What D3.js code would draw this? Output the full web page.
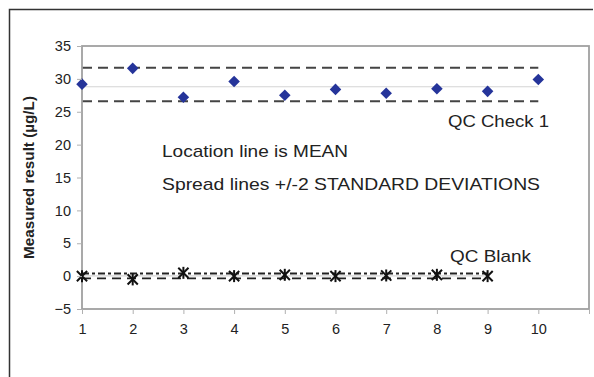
<!DOCTYPE html>
<html lang="en">
<head>
    <script src='https://d3js.org/d3.v7.min.js'></script>
    <style>
        body { margin: 0; background: #fff; }
        text { font-family: "Liberation Sans", Arial, sans-serif; fill: #222; }
    </style>
</head>
<body>
<script>
    // sample numbers
    var runs = [1, 2, 3, 4, 5, 6, 7, 8, 9, 10];
    var check1 = [29.2, 31.6, 27.2, 29.6, 27.5, 28.4, 27.8, 28.5, 28.1, 29.9];
    var blankRuns = [1, 2, 3, 4, 5, 6, 7, 8, 9];
    var blank = [0, -0.5, 0.5, 0, 0.2, 0, 0.1, 0.2, 0];
    var yTicks = [-5, 0, 5, 10, 15, 20, 25, 30, 35];

    // control limits (mean and +/-2 sd as drawn)
    var check1Mean = 28.8, check1Upper = 31.7, check1Lower = 26.6;
    var blankMean = 0.05, blankUpper = 0.4, blankLower = -0.35;

    var width = 594, height = 377;
    var margin = {left: 82, top: 46, right: 5, bottom: 68};

    var svg = d3.select("body").append("svg")
        .attr("width", width)
        .attr("height", height);

    // figure frame (top and left only)
    svg.append("path")
        .attr("d", "M9.5,377V9.5H593")
        .attr("fill", "none")
        .attr("stroke", "#333")
        .attr("stroke-width", 1.5);

    var x = d3.scaleLinear().domain([1, 11]).range([margin.left, width - margin.right]);
    var y = d3.scaleLinear().domain([-5, 35]).range([height - margin.bottom, margin.top]);

    var g = svg.append("g");

    // mean lines
    g.append("line")
        .attr("x1", x(1)).attr("x2", x(10))
        .attr("y1", y(check1Mean)).attr("y2", y(check1Mean))
        .attr("stroke", "#d4d4d4").attr("stroke-width", 1.2);

    g.append("line")
        .attr("x1", x(1)).attr("x2", x(9))
        .attr("y1", y(blankMean)).attr("y2", y(blankMean))
        .attr("stroke", "#d4d4d4").attr("stroke-width", 1.2);

    // spread lines
    [check1Upper, check1Lower].forEach(function (v) {
        g.append("line")
            .attr("x1", x(1)).attr("x2", x(10))
            .attr("y1", y(v)).attr("y2", y(v))
            .attr("stroke", "#444").attr("stroke-width", 2)
            .attr("stroke-dasharray", "10,6");
    });

    [blankUpper, blankLower].forEach(function (v, i) {
        g.append("line")
            .attr("x1", x(1)).attr("x2", x(9))
            .attr("y1", y(v)).attr("y2", y(v))
            .attr("stroke", "#222").attr("stroke-width", 1.8)
            .attr("stroke-dasharray", i ? "9,6" : "7,3,3,3");
    });

    // plot border
    g.append("rect")
        .attr("x", x(1)).attr("y", y(35))
        .attr("width", x(11) - x(1)).attr("height", y(-5) - y(35))
        .attr("fill", "none").attr("stroke", "#a0a0a0").attr("stroke-width", 1.8);

    // axes
    var yAxis = d3.axisLeft(y).tickValues(yTicks).tickSize(5).tickPadding(6);
    var yg = svg.append("g").attr("transform", "translate(" + x(1) + ",0)").call(yAxis);
    var xAxis = d3.axisBottom(x).tickValues(d3.range(1, 12)).tickSize(5).tickPadding(10)
        .tickFormat(function (d) { return d <= 10 ? d : ""; });
    var xg = svg.append("g").attr("transform", "translate(0," + y(-5) + ")").call(xAxis);
    [yg, xg].forEach(function (a) {
        a.select(".domain").remove();
        a.selectAll(".tick line").attr("stroke", "#b0b0b0");
        a.selectAll(".tick text").style("font-size", "14.5px").attr("fill", "#222")
            .style("font-family", "Liberation Sans, Arial, sans-serif");
    });

    // QC check points (diamonds)
    var diamond = d3.symbol().type(d3.symbolDiamond2).size(85);
    g.selectAll(".chk").data(check1).enter().append("path")
        .attr("d", diamond)
        .attr("transform", function (d, i) { return "translate(" + x(runs[i]) + "," + y(d) + ")"; })
        .attr("fill", "#25349a");

    // QC blank points (asterisks)
    var star = d3.symbol().type(d3.symbolTimes).size(70);
    g.selectAll(".blk").data(blank).enter().append("g")
        .attr("transform", function (d, i) { return "translate(" + x(blankRuns[i]) + "," + y(d) + ")"; })
        .each(function () {
            var s = d3.select(this);
            s.append("path").attr("d", star).attr("fill", "none")
                .attr("stroke", "#111").attr("stroke-width", 2);
            s.append("line").attr("x1", 0).attr("x2", 0).attr("y1", -6).attr("y2", 6)
                .attr("stroke", "#111").attr("stroke-width", 2);
        });

    // labels
    svg.append("text")
        .attr("transform", "translate(34," + y(15) + ") rotate(-90)")
        .attr("text-anchor", "middle")
        .attr("textLength", 163).attr("lengthAdjust", "spacingAndGlyphs")
        .style("font-size", "14px").style("font-weight", "bold")
        .text("Measured result (µg/L)");

    var notes = [
        {t: "Location line is MEAN", x: 162, y: 157, len: 186},
        {t: "Spread lines +/-2 STANDARD DEVIATIONS", x: 162, y: 190, len: 378},
        {t: "QC Check 1", x: 448, y: 127, len: 101},
        {t: "QC Blank", x: 450, y: 262, len: 81}
    ];
    svg.selectAll(".note").data(notes).enter().append("text")
        .attr("x", function (d) { return d.x; })
        .attr("y", function (d) { return d.y; })
        .attr("textLength", function (d) { return d.len; })
        .attr("lengthAdjust", "spacingAndGlyphs")
        .style("font-size", "17px")
        .text(function (d) { return d.t; });
</script>
</body>
</html>
